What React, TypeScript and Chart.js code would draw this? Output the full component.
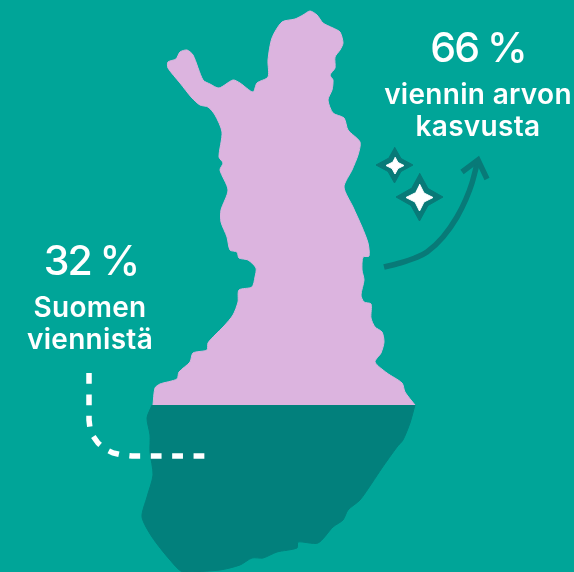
import React, { useEffect, useRef } from "react";
import { Chart, registerables } from "chart.js";

Chart.register(...registerables);

const WIDTH = 574;
const HEIGHT = 572;
const TEAL = "#00a598";
const PINK = "#dcb4df";
const DARK = "#02807c";
const ARROW = "#087a78";
const WHITE = "#ffffff";

const northMap = [
  [153,405],[155,388],[160,384],[177,379],[179,372],[190,362],[193,353],[207,350],[208,343],[215,335],[224,326],[233,315],[238,302],[239,290],[252,287],[255,277],[256,268],[248,260],[239,258],[237,252],[230,250],[227,237],[221,222],[221,210],[228,190],[220,170],[223,163],[219,157],[222,132],[215,115],[208,107],[200,105],[192,98],[180,83],[168,68],[168,62],[176,59],[180,52],[187,50],[193,55],[203,80],[210,84],[219,88],[233,80],[240,83],[253,92],[257,83],[268,77],[268,60],[272,38],[282,22],[295,19],[303,15],
  [310,11],[317,15],[323,23],[333,28],[340,32],[343,43],[340,50],[335,57],[335,68],[330,75],[333,80],[332,90],[328,100],[333,113],[344,118],[348,130],[360,142],[358,155],[352,170],[344,187],[353,207],[362,227],[368,243],[369,256],[363,257],[362,270],[364,280],[361,295],[364,302],[371,304],[371,318],[375,327],[382,332],[384,342],[381,353],[375,362],[387,373],[402,383],[405,392],[415,405],
];
const southMap = [
  [415,405],[410,423],[403,440],[397,447],[382,468],[372,483],[360,500],[348,510],[343,520],[333,527],[318,543],[298,542],[297,548],[277,552],[263,558],[252,558],[240,565],[220,570],[183,572],[170,560],[152,537],[142,517],[147,497],[153,475],[150,452],[150,435],[147,418],[152,405],
];
const growthArrow = [[384,267],[400,263],[415,258],[427,252],[443,237],[457,217],[466,199],[472,183],[478,160]];
const arrowHead = [[462,172],[478,160],[487,179]];
const pointerLine = [[89,373],[89,420],[90,428],[93,436],[98,443],[105,449],[113,453],[122,455],[132,456],[205,456]];
const sparkleOneOuter = [[394.5,147],[401,158.5],[413,165],[401,171.5],[394.5,183],[388,171.5],[376,165],[388,158.5]];
const sparkleOneInner = [[395,157],[398,162.5],[404,165.5],[398,168.5],[395,174],[392,168.5],[386,165.5],[392,162.5]];
const sparkleTwoOuter = [[419.5,173],[428,188.5],[443,197],[428,205.5],[419.5,221],[411,205.5],[396,197],[411,188.5]];
const sparkleTwoInner = [[419.5,184],[424,193],[433,197.5],[424,202],[419.5,211],[415,202],[406,197.5],[415,193]];

const bigLabels = [
  { text: "66 %", x: 478, y: 62 },
  { text: "32 %", x: 91, y: 275 },
];
const smallLabels = [
  { text: "viennin arvon", x: 478, y: 104 },
  { text: "kasvusta", x: 478, y: 136 },
  { text: "Suomen", x: 90, y: 317 },
  { text: "viennistä", x: 90, y: 349 },
];

const toPoints = (list: number[][]) => list.map(([x, y]) => ({ x, y }));

const shape = (list: number[][], color: string, tension = 0) => ({
  data: toPoints(list),
  showLine: true,
  fill: "shape",
  backgroundColor: color,
  borderColor: color,
  borderWidth: 1,
  borderJoinStyle: "round",
  pointRadius: 0,
  tension,
});
const stroke = (list: number[][], color: string, width: number, extra = {}) => ({
  data: toPoints(list),
  showLine: true,
  fill: false,
  borderColor: color,
  borderWidth: width,
  pointRadius: 0,
  ...extra,
});

const textPlugin = {
  id: "mapText",
  afterDatasetsDraw(chart: any) {
    const { ctx, scales } = chart;
    ctx.save();
    ctx.fillStyle = WHITE;
    ctx.textAlign = "center";
    ctx.textBaseline = "alphabetic";
    ctx.font = '500 41px Inter';
    ctx.letterSpacing = "-2px";
    bigLabels.forEach((l) => ctx.fillText(l.text, scales.x.getPixelForValue(l.x), scales.y.getPixelForValue(l.y)));
    ctx.font = '600 28px Inter';
    ctx.letterSpacing = "0.3px";
    smallLabels.forEach((l) => ctx.fillText(l.text, scales.x.getPixelForValue(l.x), scales.y.getPixelForValue(l.y)));
    ctx.restore();
  },
};

export default function App() {
  const ref = useRef<HTMLCanvasElement>(null);
  useEffect(() => {
    document.body.style.margin = "0";
    const chart = new Chart(ref.current as HTMLCanvasElement, {
      type: "scatter",
      data: {
        datasets: [
          stroke(pointerLine, WHITE, 5.5, { borderDash: [10.8, 10.6] }),
          shape(sparkleTwoInner, WHITE),
          shape(sparkleTwoOuter, ARROW),
          shape(sparkleOneInner, WHITE),
          shape(sparkleOneOuter, ARROW),
          stroke(arrowHead, ARROW, 5.5, { tension: 0, borderCapStyle: "butt" }),
          stroke(growthArrow, ARROW, 5.5, { cubicInterpolationMode: "monotone", borderCapStyle: "butt" }),
          shape(southMap, DARK, 0.25),
          shape(northMap, PINK, 0.25),
        ] as any,
      },
      options: {
        animation: false,
        responsive: false,
        layout: { padding: 0 },
        plugins: { legend: { display: false }, tooltip: { enabled: false }, title: { display: false } },
        scales: {
          x: { type: "linear", min: 0, max: WIDTH, display: false },
          y: { type: "linear", min: 0, max: HEIGHT, reverse: true, display: false },
        },
      },
      plugins: [textPlugin],
    });
    return () => chart.destroy();
  }, []);
  return (
    <canvas
      ref={ref}
      width={WIDTH}
      height={HEIGHT}
      style={{ display: "block", background: TEAL, width: WIDTH, height: HEIGHT }}
    />
  );
}
